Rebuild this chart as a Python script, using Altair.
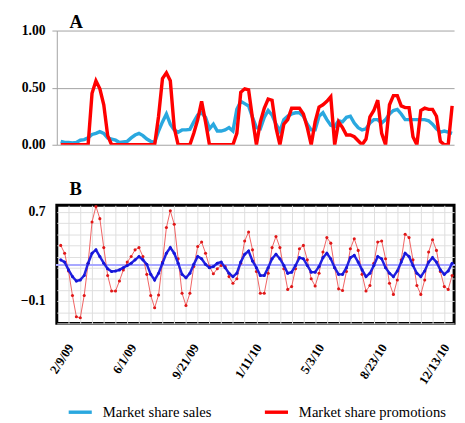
import altair as alt
import pandas as pd

# ---------------- data ----------------
start_date = "2009-02-09"
n_weeks = 101
dates = pd.date_range(start_date, periods=n_weeks, freq="7D")

# Panel A
a_sales = [0.03, 0.02, 0.02, 0.015, 0.02, 0.04, 0.045, 0.06, 0.09, 0.10,
           0.115, 0.10, 0.06, 0.05, 0.04, 0.02, 0.025, 0.03, 0.06, 0.085,
           0.10, 0.08, 0.05, 0.03, 0.02, 0.12, 0.20, 0.27, 0.18, 0.13,
           0.11, 0.13, 0.13, 0.135, 0.20, 0.26, 0.28, 0.24, 0.14, 0.18,
           0.12, 0.12, 0.13, 0.15, 0.12, 0.31, 0.38, 0.36, 0.34, 0.24,
           0.15, 0.14, 0.24, 0.30, 0.26, 0.18, 0.12, 0.22, 0.25, 0.27,
           0.28, 0.28, 0.25, 0.18, 0.13, 0.13, 0.25, 0.28, 0.22, 0.17,
           0.16, 0.21, 0.20, 0.24, 0.25, 0.19, 0.15, 0.13, 0.14, 0.19,
           0.22, 0.22, 0.19, 0.22, 0.27, 0.30, 0.31, 0.27, 0.22, 0.22,
           0.22, 0.22, 0.22, 0.22, 0.21, 0.18, 0.14, 0.11, 0.12, 0.11,
           0.10]
a_promo = [0, 0, 0, 0, 0, 0, 0, 0, 0.45, 0.56,
           0.49, 0.35, 0.08, 0, 0, 0, 0, 0, 0, 0,
           0, 0, 0, 0, 0, 0.25, 0.58, 0.63, 0.56, 0.15,
           0, 0, 0, 0, 0.10, 0.22, 0.38, 0.20, 0, 0,
           0, 0, 0, 0, 0, 0.10, 0.46, 0.49, 0.48, 0.23,
           0, 0.20, 0.32, 0.40, 0.39, 0.15, 0, 0.18, 0.22, 0.32,
           0.32, 0.32, 0.27, 0.15, 0, 0.20, 0.33, 0.35, 0.38, 0.42,
           0, 0.20, 0.15, 0.085, 0.085, 0.07, 0.035, 0, 0.05, 0.245,
           0.30, 0.39, 0.10, 0, 0.35, 0.43, 0.43, 0.34, 0.325, 0.325,
           0.07, 0, 0.30, 0.32, 0.31, 0.31, 0.25, 0.03, 0, 0,
           0.34]

# Panel B
b_sales = [0.27, 0.25, 0.18, 0.12, 0.08, 0.09, 0.13, 0.24, 0.33, 0.36,
           0.30, 0.24, 0.19, 0.165, 0.17, 0.18, 0.20, 0.22, 0.24, 0.27,
           0.30, 0.27, 0.23, 0.14, 0.09, 0.15, 0.24, 0.33, 0.38, 0.33,
           0.24, 0.14, 0.11, 0.15, 0.23, 0.30, 0.28, 0.23, 0.20, 0.21,
           0.24, 0.25, 0.20, 0.15, 0.12, 0.15, 0.25, 0.32, 0.35, 0.26,
           0.20, 0.13, 0.13, 0.20, 0.28, 0.32, 0.28, 0.22, 0.15, 0.16,
           0.22, 0.29, 0.28, 0.22, 0.16, 0.16, 0.21, 0.29, 0.33, 0.28,
           0.20, 0.14, 0.14, 0.20, 0.29, 0.31, 0.25, 0.18, 0.12, 0.15,
           0.22, 0.30, 0.28, 0.20, 0.15, 0.12, 0.17, 0.25, 0.33, 0.30,
           0.22, 0.15, 0.12, 0.17, 0.25, 0.29, 0.25, 0.18, 0.14, 0.17,
           0.24]
b_promo = [0.40, 0.33, 0.17, -0.05, -0.24, -0.25, -0.05, 0.24, 0.61, 0.75,
           0.64, 0.38, 0.13, -0.01, -0.01, 0.08, 0.18, 0.25, 0.30, 0.36,
           0.38, 0.30, 0.14, -0.05, -0.16, -0.045, 0.25, 0.56, 0.71, 0.59,
           0.28, -0.03, -0.14, -0.03, 0.21, 0.39, 0.43, 0.33, 0.21, 0.145,
           0.19, 0.22, 0.21, 0.12, 0.06, 0.10, 0.24, 0.44, 0.52, 0.36,
           0.165, -0.03, -0.03, 0.15, 0.38, 0.48, 0.38, 0.19, 0.005, 0.03,
           0.19, 0.37, 0.40, 0.27, 0.10, 0.035, 0.15, 0.34, 0.47, 0.42,
           0.20, 0.01, -0.005, 0.165, 0.37, 0.46, 0.355, 0.14, -0.01, 0.04,
           0.24, 0.43, 0.44, 0.28, 0.06, -0.04, 0.09, 0.27, 0.50, 0.47,
           0.27, 0.04, -0.04, 0.09, 0.34, 0.45, 0.355, 0.165, 0.03, 0.005,
           0.13]
b_mean = 0.224

series_names = ["Market share sales", "Market share promotions"]
tick_dates = ["2009-02-09", "2009-06-01", "2009-09-21", "2010-01-11",
              "2010-05-03", "2010-08-23", "2010-12-13"]
a_ticks = [0.0, 0.5, 1.0]
b_label_ticks = [0.7, -0.1]

# ---------------- frames ----------------
dfA = pd.concat([
    pd.DataFrame({"date": dates, "value": a_sales, "series": series_names[0]}),
    pd.DataFrame({"date": dates, "value": a_promo, "series": series_names[1]}),
])
dfB = pd.DataFrame({"date": dates, "sales": b_sales, "promo": b_promo})
dfL = pd.DataFrame({"series": series_names})

SERIF = "Liberation Serif"
x_domain = [alt.DateTime(year=2009, month=2, date=2),
            alt.DateTime(year=2011, month=1, date=13, hours=12)]
W = 407

def to_dt(s):
    y, m, d = [int(v) for v in s.split("-")]
    return alt.DateTime(year=y, month=m, date=d)

# ---------------- panel A ----------------
xA = alt.X("date:T", scale=alt.Scale(domain=x_domain), axis=None)
yA = alt.Y("value:Q", scale=alt.Scale(domain=[0, 1]),
           axis=alt.Axis(values=a_ticks, format=".2f", title=None,
                         labelFont=SERIF, labelFontSize=14, labelFontWeight="bold",
                         labelColor="black", gridColor="#a0a0a0", domainColor="#a0a0a0",
                         tickColor="#a0a0a0", tickSize=5, labelPadding=7,
                         minExtent=48, maxExtent=48))
colorA = alt.Color("series:N", scale=alt.Scale(domain=series_names,
                                                range=["#2aa8df", "#ff0000"]),
                   legend=None)

lineA_sales = alt.Chart(dfA).transform_filter(
    alt.datum.series == series_names[0]
).mark_line(strokeWidth=3.5, clip=True).encode(x=xA, y=yA, color=colorA)
lineA_promo = alt.Chart(dfA).transform_filter(
    alt.datum.series == series_names[1]
).mark_line(strokeWidth=3.5, clip=True).encode(x=xA, y=yA, color=colorA)

panelA = alt.layer(lineA_sales, lineA_promo).properties(
    width=W, height=117,
    title=alt.TitleParams("A", anchor="start", frame="group", font=SERIF, fontSize=19,
                          fontWeight="bold", dx=13, offset=-8, color="black"),
)

# ---------------- panel B ----------------
b_grid_vals = [round(-0.3 + 0.1 * k, 1) for k in range(11)]
yScaleB = alt.Scale(domain=[-0.30, 0.76], nice=False, zero=False)
yB_labels = alt.Y("sales:Q", scale=yScaleB,
                  axis=alt.Axis(orient="left", values=b_label_ticks, format=".1f",
                                title=None, domain=False, ticks=False, grid=False,
                                labelFont=SERIF, labelFontSize=14, labelFontWeight="bold",
                                labelColor="black", labelPadding=12, labelOverlap=False,
                                minExtent=48, maxExtent=48))
yB_grid = alt.Y("sales:Q", scale=yScaleB,
                axis=alt.Axis(orient="right", values=b_grid_vals, labels=False,
                              ticks=False, domain=False, title=None, grid=True,
                              gridColor="#dedede", minExtent=0, maxExtent=0))
xB = alt.X("date:T", scale=alt.Scale(domain=x_domain),
           axis=alt.Axis(orient="bottom", values=[to_dt(s) for s in tick_dates],
                         format="%-m/%-d/%y",
                         title=None, grid=False, domain=False, ticks=False,
                         labelAngle=303, labelFont=SERIF, labelFontSize=13,
                         labelFontWeight="bold", labelColor="black",
                         labelPadding=22, labelOffset=10))
xB_grid = alt.X("date:T", scale=alt.Scale(domain=x_domain),
                axis=alt.Axis(orient="top",
                              values=[alt.DateTime(year=d.year, month=d.month, date=d.day)
                                      for d in dates[2::3]],
                              labels=False, ticks=False, domain=False, title=None,
                              grid=True, gridColor="#dedede", minExtent=0, maxExtent=0))

grid_layer = alt.Chart(dfB).mark_line(opacity=0).encode(x=xB_grid, y=yB_grid)
mean_rule = alt.Chart(dfB).mark_rule(color="#a8a8ff", strokeWidth=1.5).encode(
    y=alt.YDatum(b_mean, scale=yScaleB, axis=None))
red_line = alt.Chart(dfB).mark_line(
    color="#f06060", strokeWidth=1, clip=True,
    point=alt.OverlayMarkDef(color="#e01818", size=10, filled=True)
).encode(x=alt.X("date:T", scale=alt.Scale(domain=x_domain), axis=None),
         y=alt.Y("promo:Q", scale=yScaleB, axis=None))
blue_line = alt.Chart(dfB).mark_line(
    color="#2020e0", strokeWidth=2.5, clip=True,
    point=alt.OverlayMarkDef(color="#1515d8", size=10, filled=True)
).encode(x=xB, y=yB_labels)

panelB = alt.layer(grid_layer, mean_rule, red_line, blue_line).resolve_axis(
    x="independent", y="independent"
).properties(
    width=W, height=121,
    view=alt.ViewBackground(stroke="black", strokeWidth=3),
    title=alt.TitleParams("B", anchor="start", frame="group", font=SERIF, fontSize=19,
                          fontWeight="bold", dx=13, offset=6, color="black"),
)

# ---------------- legend (drawn through scales) ----------------
xL = alt.X("series:N", scale=alt.Scale(type="point", domain=series_names,
                                       range=[24, 225], padding=0), axis=None)
colorL = alt.Color("series:N", scale=alt.Scale(domain=series_names,
                                                range=["#1f74c4", "#ff0000"]),
                   legend=None)
leg_sym = alt.Chart(dfL).mark_point(shape="stroke", size=560, strokeWidth=3.5,
                                    opacity=1).encode(x=xL, color=colorL)
leg_txt = alt.Chart(dfL).mark_text(align="left", dx=23, font=SERIF, fontSize=15,
                                   color="black").encode(x=xL, text="series:N")
legend_panel = alt.layer(leg_sym, leg_txt).properties(width=W, height=16)

chart = alt.vconcat(
    alt.vconcat(panelA, panelB, spacing=28),
    legend_panel, spacing=16
).properties(
    padding={"left": 0, "top": 0, "right": 0, "bottom": 0}
).configure_view(stroke=None)

chart.save("out.html", embed_options={"renderer": "svg", "actions": False})
